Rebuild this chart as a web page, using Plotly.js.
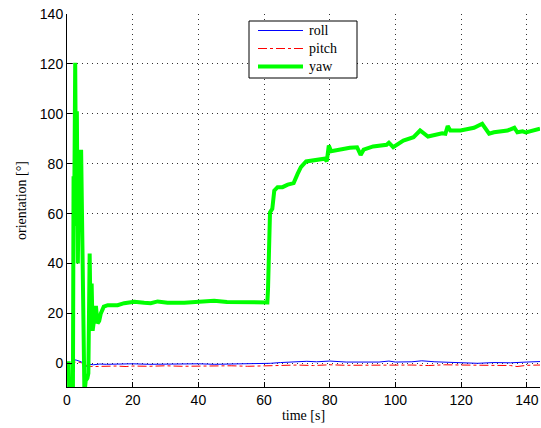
<!DOCTYPE html>
<html>
<head>
<meta charset="utf-8">
<script src="https://cdn.plot.ly/plotly-3.0.1.min.js"></script>
<style>html,body{margin:0;padding:0;background:#fff;}#chart{width:541px;height:428px;}</style>
</head>
<body>
<div id="chart"></div>
<script>
// time stamps [s] and orientation values [deg]
const rollT = [0, 0.5, 1, 1.5, 2, 3, 4, 4.5, 5, 5.5, 6, 7, 8, 10, 12, 15, 20, 25, 30, 35, 40, 45, 50, 55, 60, 62, 65, 70, 73, 76, 80, 85, 90, 95, 98, 100, 105, 108, 112, 115, 120, 125, 130, 135, 140, 144];
const rollV = [0, -0.3, -0.5, 0.2, 1.5, 1.2, 0.6, 0.5, -1.0, -1.6, -1.2, -0.4, -0.6, -0.3, -0.4, -0.3, -0.2, -0.4, -0.3, -0.4, -0.2, -0.4, -0.3, -0.4, -0.3, 0.0, 0.3, 0.5, 0.8, 0.6, 0.9, 0.5, 0.4, 0.5, 0.9, 0.5, 0.6, 1.0, 0.6, 0.4, 0.2, 0.0, 0.3, 0.2, 0.5, 0.7];

const pitchT = [0, 1, 2, 3, 4, 5, 6, 7, 8, 10, 12, 15, 18, 20, 25, 30, 35, 40, 45, 50, 55, 60, 62, 65, 70, 75, 80, 85, 90, 95, 100, 105, 110, 115, 120, 125, 130, 135, 137, 140, 144];
const pitchV = [0, -0.2, 0.5, 0.6, 0.4, -0.5, -1.0, -1.2, -1.3, -1.2, -1.0, -1.1, -1.3, -1.1, -1.2, -1.0, -1.2, -1.1, -1.3, -1.0, -1.2, -1.1, -0.8, -0.9, -0.7, -0.9, -0.6, -0.8, -0.7, -0.6, -0.8, -0.7, -0.9, -0.6, -0.7, -0.8, -0.6, -0.9, -1.3, -0.8, -0.7];

const yawT = [0, 0.5, 0.7, 1.8, 2.0, 2.2, 2.5, 2.8, 3.0, 3.3, 3.7, 4.0, 4.3, 4.6, 4.9, 5.3, 5.7, 6.2, 6.5, 6.9, 7.2, 7.5, 7.8, 8.3, 8.8, 9.3, 9.8, 10.3, 11.2, 12.4, 15.4, 17.4, 20.5, 23.5, 25.5, 27.6, 30.6, 35.7, 40.8, 44.8, 48.7, 53.8, 61.0, 61.2, 61.5, 61.8, 62.5, 63.1, 64.1, 65.6, 67.2, 69.0, 70.2, 71.2, 72.8, 75.8, 78.4, 79.1, 79.7, 80.4, 83.0, 86.1, 88.3, 89.4, 90.3, 93.2, 97.3, 98.0, 99.3, 102.4, 105.5, 107.5, 109.9, 114.2, 115.2, 115.9, 116.7, 119.8, 123.9, 126.4, 128.5, 130.0, 134.1, 136.2, 137.1, 138.7, 139.7, 144.0];
const yawV = [0, 0, -12, -12, 75, 62, 120.5, 55, 101, 40, 84, 65, 85.6, 62, 40, -12, -7, -6, -4, 44, 14, 32, 13, 18, 23, 16, 17, 20, 22.7, 23.3, 23.3, 24.1, 24.7, 24.3, 24.1, 24.8, 24.3, 24.3, 24.7, 25.1, 24.6, 24.6, 24.4, 29.8, 49.2, 60.5, 61.9, 69.2, 70.6, 70.6, 71.6, 72.2, 75.9, 78.6, 80.9, 81.3, 82.0, 81.0, 87.3, 85.0, 85.8, 86.4, 86.6, 83.5, 85.6, 86.9, 87.6, 88.4, 86.6, 89.3, 90.6, 93.3, 90.9, 92.2, 92.0, 95.1, 93.3, 93.3, 94.4, 96.0, 92.0, 92.6, 93.3, 94.4, 92.6, 93.0, 92.5, 94.0];

const xTicks = [0, 20, 40, 60, 80, 100, 120, 140];
const yTicks = [0, 20, 40, 60, 80, 100, 120, 140];
const seriesNames = ['roll', 'pitch', 'yaw'];

const styles = [
  {color: '#0000ff', width: 1, dash: 'solid'},
  {color: '#ff0000', width: 1, dash: 'dashdot'},
  {color: '#00ff00', width: 4, dash: 'solid'}
];
const xs = [rollT, pitchT, yawT];
const ys = [rollV, pitchV, yawV];

const traces = seriesNames.map((n, i) => ({
  x: xs[i], y: ys[i], name: n, type: 'scatter', mode: 'lines', line: styles[i]
}));

const serif = 'Liberation Serif, Times New Roman, serif';
const sans = 'Liberation Sans, Arial, sans-serif';

// plot area geometry (pixels) used to place the legend box in paper coordinates
const M = {l: 67, r: 1, t: 14, b: 41};
const W = 541, H = 428;
const pw = W - M.l - M.r, ph = H - M.t - M.b;
const px = v => (v - M.l) / pw;
const py = v => (H - M.b - v) / ph;

const legendBox = {x0: 249, x1: 357, y0: 21, y1: 78};
const legendRows = [30.5, 48.5, 66.5];
const shapes = [{
  type: 'rect', xref: 'paper', yref: 'paper', layer: 'above',
  x0: px(legendBox.x0), x1: px(legendBox.x1), y0: py(legendBox.y1), y1: py(legendBox.y0),
  line: {color: '#000', width: 1}, fillcolor: '#fff'
}];
const annotations = [];
seriesNames.forEach((n, i) => {
  shapes.push({type: 'line', xref: 'paper', yref: 'paper', layer: 'above',
    x0: px(258), x1: px(303), y0: py(legendRows[i]), y1: py(legendRows[i]),
    line: styles[i]});
  annotations.push({xref: 'paper', yref: 'paper', x: px(307), y: py(legendRows[i]),
    xanchor: 'left', yanchor: 'middle', showarrow: false, text: n,
    font: {family: serif, size: 14, color: '#000'}});
});

const layout = {
  width: W, height: H,
  margin: M,
  paper_bgcolor: '#fff', plot_bgcolor: '#fff',
  showlegend: false,
  shapes: shapes,
  annotations: annotations,
  xaxis: {
    range: [0, 144], tickvals: xTicks, ticktext: xTicks.map(String),
    showline: true, linecolor: '#000', linewidth: 1, mirror: false,
    ticks: 'inside', ticklen: 5, tickcolor: '#000',
    showgrid: true, gridcolor: '#333', gridwidth: 1, griddash: '1px,4px',
    zeroline: false,
    tickfont: {family: sans, size: 14, color: '#000'},
    title: {text: 'time [s]', font: {family: serif, size: 14, color: '#000'}, standoff: 3}
  },
  yaxis: {
    range: [-9.5, 140], tickvals: yTicks, ticktext: yTicks.map(String),
    showline: true, linecolor: '#000', linewidth: 1, mirror: false,
    ticks: 'inside', ticklen: 5, tickcolor: '#000',
    showgrid: true, gridcolor: '#333', gridwidth: 1, griddash: '1px,4px',
    zeroline: false,
    tickfont: {family: sans, size: 14, color: '#000'},
    title: {text: 'orientation [°]', font: {family: serif, size: 14, color: '#000'}, standoff: 9}
  }
};

Plotly.newPlot('chart', traces, layout, {displayModeBar: false, staticPlot: true});
</script>
</body>
</html>
